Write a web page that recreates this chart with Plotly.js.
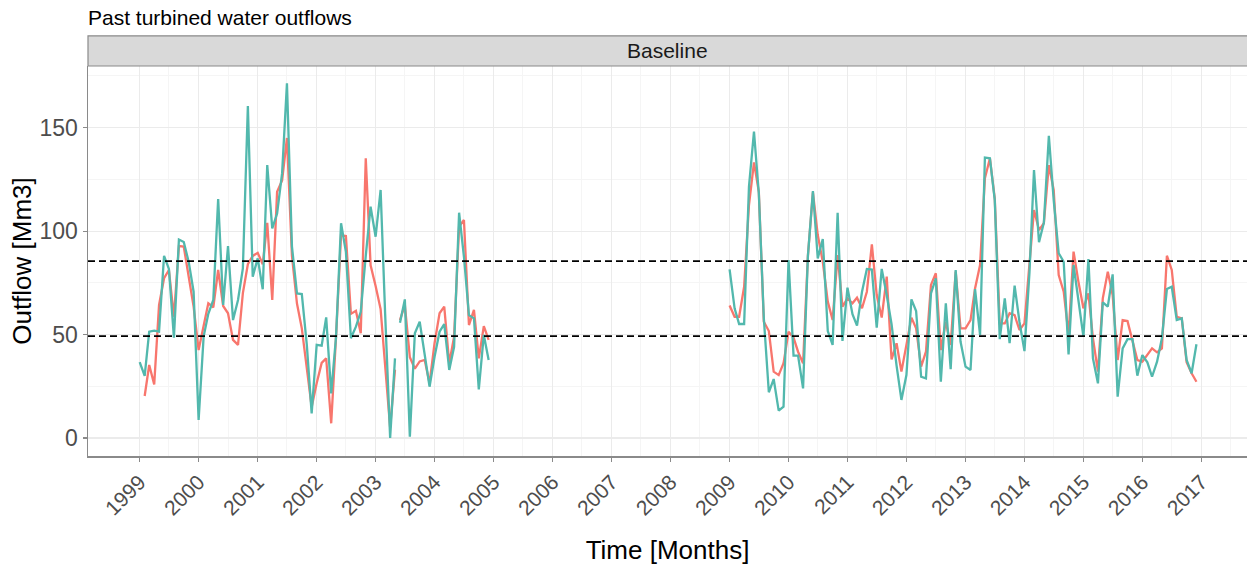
<!DOCTYPE html>
<html>
<head>
<meta charset="utf-8">
<script src="https://cdn.plot.ly/plotly-3.0.1.min.js"></script>
<style>html,body{margin:0;padding:0;background:#fff;}#chart{width:1247px;height:574px;}</style>
</head>
<body>
<div id="chart"></div>
<script>
// ---- data (monthly outflows, Mm3) ----
const seg1Start = [1999, 1];   // first month of first period
const seg2Start = [2009, 1];   // first month of second period
const seg1BreakAfter = 52;     // line is interrupted after 2003-05

const tealSeg1 = [36.7,30,51.4,51.9,51.4,88,81.7,48.5,95.9,94.7,85,70.7,
  8.7,49,60,66.7,115.5,64.3,92.8,57,66.7,82,160.5,78,
  86.8,71.9,131.9,101.3,108.5,128,171.4,92.5,69.9,69.6,45,11.9,
  45,44.6,58.3,21.6,49,103.8,90,48.2,53.8,61,88,111.8,
  97.3,119.9,60,0,38.5,55.7,67,0.6,50.6,56.2,39,24.8,
  39.3,51.4,55,32.9,44.1,108.9,87.6,59.4,57.8,23.5,49.8,37.7];
const redSeg1 = [null,20.3,35.3,25.9,64.3,77.2,81.2,58.6,92.8,92.5,78,63.5,
  42.5,53.8,65.1,63.2,81.2,63.8,60.3,47.4,45,70,84,88,
  89.5,84,104,66.7,119,124.5,145,88,65,53,33,15,
  26.5,36.3,38.5,7.1,49,98,97.6,60,61.5,50.6,135.2,83.5,
  73.5,62.3,35,5,33,57,64.3,39,33.5,37,37.7,26.4,
  45.8,60.3,63.5,36.1,49,102.1,105.4,54.6,61.9,38.5,54.1,47.4];
const tealSeg2 = [81.5,62.7,55.1,55.1,121.5,148.1,118.3,57.8,22.1,28.5,13.2,15.1,
  86,39.8,39.8,24,88,119.4,86.8,96.2,51.7,45,108.9,46.9,
  72.7,59.8,54.3,70.7,81.7,81.4,53.3,81.7,69.1,55,35,18.4,
  30.4,67,61.4,29.6,28.8,69.9,77.2,27.2,65.1,33.3,81.2,46.6,
  34.5,32.9,72,49.8,135.5,135.2,115,47.8,67.5,45.8,73.6,56.2,
  42,80,129.5,94.6,104,146.1,115,89.3,85.2,40.4,83.6,65.9,
  49,86.5,38.5,26.4,65.6,63.5,79.1,20,43.3,47.8,47.8,30.1,
  40.1,36.6,29.6,36.9,48.2,72,73.1,57,57.8,37.7,31.3,45.3];
const redSeg2 = [64,58.6,58.6,73.1,112.6,133.2,119,56.2,51.7,32.1,30.4,36.1,
  51.4,48.5,41.7,36.1,88,118.7,98.1,85.2,65.9,57,88.4,63.5,
  67.5,65.1,67.8,62.7,70.7,93.6,69.1,58.2,78,38,45.8,32.1,
  45,58.2,53,34.5,41.7,74,79.6,42.5,56.2,45,80.4,53,
  53,57,72.3,83.6,125.5,135.2,115.8,55.4,55.4,60.3,59.4,52.2,
  55.4,83.6,110.2,100.5,103.8,131.9,119.9,78.8,70.7,49.8,90.1,75.6,
  62.7,69.9,48.2,32.1,67.5,80.4,69.1,37.7,57,56.5,46.6,37.7,
  36.9,40.1,43.3,41.4,43.3,88.1,81.2,58.6,57.8,36.6,31.3,27.2];
const thresholds = [49.2, 85.5];
const yearTicks = ['1999','2000','2001','2002','2003','2004','2005','2006','2007','2008',
  '2009','2010','2011','2012','2013','2014','2015','2016','2017'];

// ---- helpers ----
function monthDate(start, i) {
  const tot = (start[0] * 12 + start[1] - 1) + i;
  const y = Math.floor(tot / 12), m = tot % 12 + 1;
  return y + '-' + String(m).padStart(2, '0') + '-01';
}
function midDate(start, i) {
  return monthDate(start, i).slice(0, 8) + '16';
}
function buildSeries(v1, v2) {
  const x = [], y = [];
  v1.forEach((v, i) => {
    x.push(monthDate(seg1Start, i)); y.push(v);
    if (i === seg1BreakAfter) { x.push(midDate(seg1Start, i)); y.push(null); }
  });
  x.push('2006-12-01'); y.push(null);
  v2.forEach((v, i) => { x.push(monthDate(seg2Start, i)); y.push(v); });
  return {x, y};
}

const red = buildSeries(redSeg1, redSeg2);
const teal = buildSeries(tealSeg1, tealSeg2);

const traces = [
  {x: red.x, y: red.y, type: 'scatter', mode: 'lines', name: 'Simulated',
   line: {color: '#F8766D', width: 2.3}, connectgaps: false, hoverinfo: 'x+y'},
  {x: teal.x, y: teal.y, type: 'scatter', mode: 'lines', name: 'Observed',
   line: {color: '#52B8AD', width: 2.3}, connectgaps: false, hoverinfo: 'x+y'}
];

const shapes = thresholds.map(t => ({
  type: 'line', xref: 'paper', x0: 0, x1: 1, yref: 'y', y0: t, y1: t,
  line: {color: '#000000', width: 1.8, dash: '7px,4px'}, layer: 'above'
}));
// facet strip
shapes.push({type: 'rect', xref: 'paper', yref: 'paper', x0: 0, x1: 1.002, y0: 1, y1: 1.0775,
  fillcolor: '#D9D9D9', line: {color: '#8A8A8A', width: 1.2}, layer: 'above'});

const font = 'Liberation Sans, Arial, sans-serif';
const layout = {
  width: 1247, height: 574,
  margin: {l: 88, r: 0, t: 66, b: 118},
  paper_bgcolor: '#ffffff', plot_bgcolor: '#ffffff',
  showlegend: false,
  font: {family: font, color: '#4D4D4D'},
  title: {text: 'Past turbined water outflows', xref: 'container', yref: 'container',
    x: 88 / 1247, xanchor: 'left', y: 1 - 18 / 574, yanchor: 'middle',
    font: {family: font, size: 21, color: '#000000'}},
  xaxis: {
    type: 'date', range: ['1998-02-15', '2017-10-10'],
    tickmode: 'array', tickvals: yearTicks.map(y => y + '-01-01'), ticktext: yearTicks,
    tickangle: -45, tickfont: {size: 21, color: '#4D4D4D'},
    ticks: 'outside', ticklen: 4, tickcolor: '#8A8A8A', tickwidth: 1.2,
    showgrid: true, gridcolor: '#EBEBEB', gridwidth: 1.1,
    minor: {tickmode: 'array', tickvals: yearTicks.map(y => y + '-07-01'), showgrid: true, gridcolor: '#F5F5F5', gridwidth: 1},
    showline: true, linecolor: '#8A8A8A', linewidth: 1.5,
    zeroline: false, automargin: false,
    title: {text: 'Time [Months]', font: {size: 26, color: '#000000'}, standoff: 22}
  },
  yaxis: {
    range: [-8.7, 179.8],
    tickmode: 'array', tickvals: [0, 50, 100, 150], ticktext: ['0', '50', '100', '150'],
    tickfont: {size: 23, color: '#4D4D4D'},
    ticks: 'outside', ticklen: 4, tickcolor: '#8A8A8A', tickwidth: 1.2,
    showgrid: true, gridcolor: '#EBEBEB', gridwidth: 1.1,
    minor: {tickmode: 'array', tickvals: [25, 75, 125, 175], showgrid: true, gridcolor: '#F5F5F5', gridwidth: 1},
    showline: true, linecolor: '#8A8A8A', linewidth: 1.5,
    zeroline: false, automargin: false,
    title: {text: 'Outflow [Mm3]', font: {size: 26, color: '#000000'}, standoff: 0}
  },
  shapes: shapes,
  annotations: [{text: 'Baseline', xref: 'paper', yref: 'paper', x: 0.5, y: 1.0385,
    xanchor: 'center', yanchor: 'middle', showarrow: false,
    font: {family: font, size: 21, color: '#1A1A1A'}}]
};

Plotly.newPlot('chart', traces, layout, {displayModeBar: false, staticPlot: true});
</script>
</body>
</html>
